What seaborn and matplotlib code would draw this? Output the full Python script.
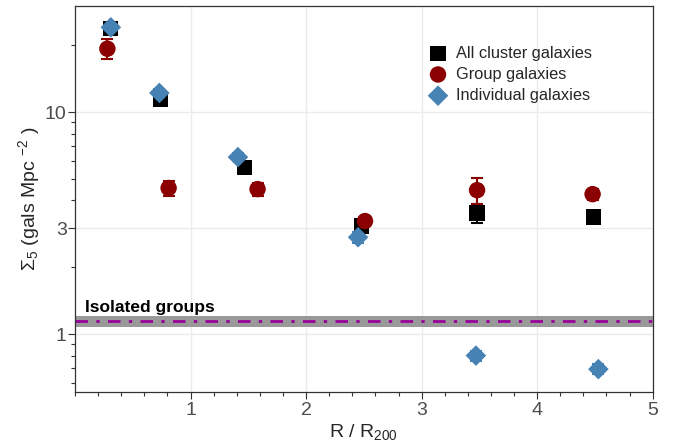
import numpy as np
import pandas as pd
import seaborn as sns
import matplotlib.pyplot as plt
from matplotlib.ticker import FixedLocator, MultipleLocator, NullFormatter

# values
all_x = [0.31, 0.74, 1.47, 2.48, 3.48, 4.49]
all_y = [23.8, 11.4, 5.65, 3.07, 3.51, 3.37]
all_err = [1.0, 0.4, 0.25, 0.15, 0.35, 0.15]

grp_x = [0.28, 0.81, 1.58, 2.51, 3.48, 4.48]
grp_y = [19.3, 4.55, 4.5, 3.23, 4.45, 4.27]
grp_err = [2.0, 0.35, 0.3, 0.15, 0.58, 0.25]

ind_x = [0.31, 0.73, 1.41, 2.45, 3.47, 4.53]
ind_y = [24.1, 12.2, 6.27, 2.73, 0.80, 0.695]
ind_err = [1.0, 0.5, 0.25, 0.16, 0.04, 0.035]

iso_y = 1.14
iso_lo, iso_hi = 1.075, 1.205

series = ["All cluster galaxies", "Group galaxies", "Individual galaxies"]
colors = ["black", "#8B0000", "#4682B4"]
markers = ["s", "o", "D"]

df = pd.DataFrame({
    "x": all_x + grp_x + ind_x,
    "y": all_y + grp_y + ind_y,
    "err": all_err + grp_err + ind_err,
    "series": [series[0]] * 6 + [series[1]] * 6 + [series[2]] * 6,
})

sns.set_style("white")
plt.rcParams["font.family"] = ["Liberation Sans", "DejaVu Sans"]
plt.rcParams["mathtext.fontset"] = "custom"
plt.rcParams["mathtext.rm"] = "Liberation Sans"
plt.rcParams["mathtext.it"] = "Liberation Sans"

fig = plt.figure(figsize=(6.82, 4.43), dpi=100)
ax = fig.add_axes([0.110, 0.115, 0.847, 0.871])

# isolated groups band and line
ax.axhspan(iso_lo, iso_hi, color="#999999", lw=0, zorder=1)
ax.axhline(iso_y, color="#990099", lw=2, dashes=(4.5, 3, 1.2, 3), zorder=2)
ax.text(0.09, 1.26, "Isolated groups", fontsize=12.5, fontweight="semibold",
        color="black", zorder=3)

sizes = {"s": 120, "o": 140, "D": 110}
for name, col, mk in zip(series, colors, markers):
    sub = df[df["series"] == name]
    ax.errorbar(sub["x"], sub["y"], yerr=sub["err"], fmt="none",
                ecolor=col, elinewidth=1.5, capsize=4, capthick=1.5, zorder=4)
    sns.scatterplot(data=sub, x="x", y="y", marker=mk, color=col, s=sizes[mk],
                    edgecolor="none", ax=ax, label=name, zorder=5)

ax.set_yscale("log")
ax.set_xlim(0, 5)
ax.set_ylim(0.548, 30)

ax.xaxis.set_major_locator(FixedLocator([1, 2, 3, 4, 5]))
ax.xaxis.set_minor_locator(MultipleLocator(0.2))
ax.yaxis.set_major_locator(FixedLocator([1, 3, 10]))
ax.set_yticklabels(["1", "3", "10"])
minor_y = [0.6, 0.7, 0.8, 0.9, 2, 4, 5, 6, 7, 8, 9, 20]
ax.yaxis.set_minor_locator(FixedLocator(minor_y))
ax.yaxis.set_minor_formatter(NullFormatter())

ax.grid(True, which="major", color="#EBEBEB", lw=1)
ax.set_axisbelow(True)
for s in ax.spines.values():
    s.set_color("#333333")
    s.set_linewidth(0.9)

ax.tick_params(which="major", direction="out", length=5, width=0.8,
               color="#333333", labelsize=14, labelcolor="#4D4D4D", pad=2)
ax.tick_params(axis="y", which="major", pad=1)
ax.tick_params(which="minor", direction="out", length=3, width=0.8,
               color="#333333")
ax.tick_params(axis="x", which="both", bottom=True)
ax.tick_params(axis="y", which="both", left=True)

ax.set_xlabel(r"R / R$_{200}$", fontsize=14, labelpad=2)
ax.set_ylabel(r"$\Sigma_5$ (gals Mpc $^{-2}$ )", fontsize=14, labelpad=2)

leg = ax.legend(loc="upper left", bbox_to_anchor=(0.6, 0.915), frameon=False,
                fontsize=11.8, handletextpad=0.5, labelspacing=0.38,
                borderaxespad=0, handlelength=1.2)

fig.savefig("out.png", dpi=100)
